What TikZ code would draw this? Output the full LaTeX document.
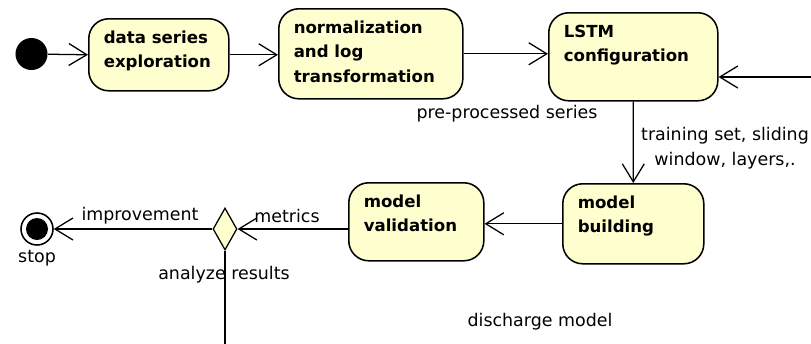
\documentclass[tikz,border=0pt]{standalone}
\usepackage{fontspec}
\setmainfont{DejaVu Sans}
\usepackage{tikz}
\usepackage{xcolor}
\usetikzlibrary{arrows.meta, positioning, shapes.geometric}
\definecolor{actYellow}{HTML}{FEFECE}
\newcommand{\actText}[3]{\parbox[t][#2][t]{#1}{\raggedright #3}}
\tikzset{
    actBox/.style={draw=black, fill=actYellow, line width=1.1pt, rounded corners=5mm, anchor=north west,
        inner xsep=3.75mm, inner ysep=3mm, font=\fontsize{11.8}{17.5}\selectfont\bfseries},
    flowLine/.style={->, line width=0.9pt},
    lblText/.style={font=\fontsize{12.4}{17.5}\selectfont, align=center, inner sep=0pt}
}

\begin{document}
\begin{tikzpicture}[x=0.025cm, y=-0.025cm, >={Straight Barb[length=4.5mm, width=5.5mm]}]
    \useasboundingbox (0,0) rectangle (811,343);
    \clip (0,0) rectangle (811,343);
    % activities
    \node[actBox] (b1) at (88,18)  {\actText{27.5mm}{12mm}{data series\\exploration}};
    \node[actBox] (b2) at (278,8)  {\actText{38.5mm}{16.5mm}{normalization\\and log\\transformation}};
    \node[actBox] (b3) at (548,12) {\actText{34.75mm}{16mm}{LSTM\\configuration}};
    \node[actBox] (b4) at (562,183) {\actText{27.75mm}{14mm}{model\\building}};
    \node[actBox] (b5) at (348,182) {\actText{26.25mm}{13.5mm}{model\\validation}};
    % start, decision, stop
    \node[circle, fill=black, inner sep=0pt, minimum size=8mm] (start) at (31.5,54) {};
    \node[diamond, draw=black, fill=actYellow, line width=0.9pt, inner sep=0pt,
          minimum width=6mm, minimum height=10.5mm] (dia) at (225,229) {};
    \node[circle, draw=black, fill=white, line width=1.1pt, inner sep=0pt, minimum size=8mm] (stop) at (37,229) {};
    \fill[black] (stop.center) circle[radius=2.75mm];
    % flow
    \draw[flowLine] (start) -- (b1.west);
    \draw[flowLine] (b1.east) -- (b2.west |- b1.east);
    \draw[flowLine] (b2.east) -- (b3.west |- b2.east);
    \draw[flowLine] (b3.south) -- (b4.north);
    \draw[flowLine] (b4.west) -- (b5.east |- b4.west);
    \draw[flowLine] (b5.west |- dia) -- (dia.east);
    \draw[flowLine] (dia.west) -- (stop.east);
    % loop back
    \coordinate (loopB) at (225,344.2);
    \coordinate (loopR) at (850,344.2);
    \coordinate (loopIn) at (850,77);
    \draw[flowLine] (dia.south) -- (dia.south |- loopB) -- (loopR) -- (loopIn) -- (b3.east |- loopIn);
    % labels
    \node[lblText] (preLbl) at (507,114) {pre-processed series};
    \node[lblText] (trainLbl) at (725,148) {training set, sliding\\window, layers,.};
    \node[lblText] (metLbl) at (287,216) {metrics};
    \node[lblText] (impLbl) at (140,216) {improvement};
    \node[lblText] (stopLbl) at (37,258) {stop};
    \node[lblText] (anaLbl) at (224,275) {analyze results};
    \node[lblText] (disLbl) at (540,322) {discharge model};
\end{tikzpicture}
\end{document}
